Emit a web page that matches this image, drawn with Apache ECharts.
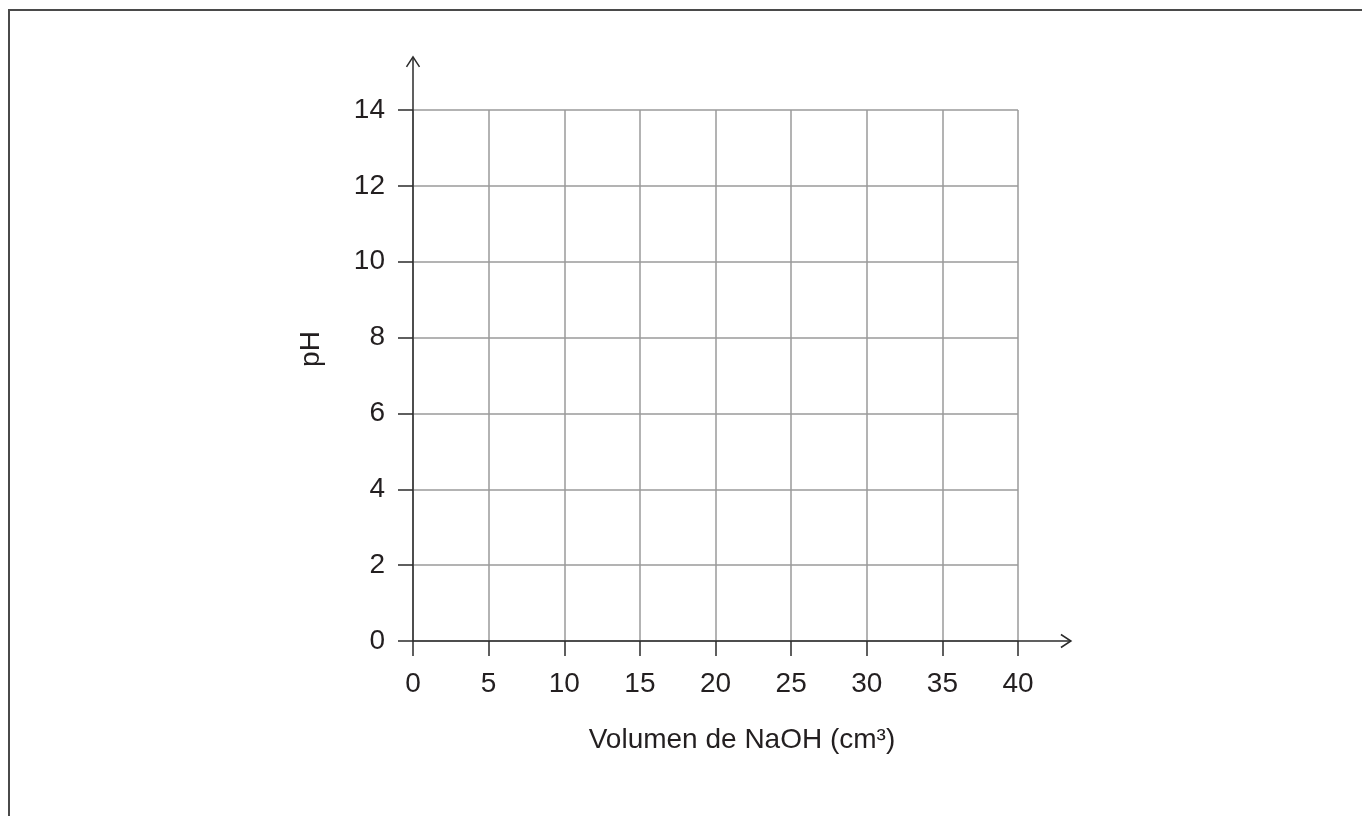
<!DOCTYPE html>
<html>
<head>
<meta charset="utf-8">
<script src="https://cdn.jsdelivr.net/npm/echarts@6/dist/echarts.min.js"></script>
<style>
html,body{margin:0;padding:0;background:#fff;}
#c{width:1362px;height:816px;}
</style>
</head>
<body>
<div id="c"></div>
<script>
// ---- data ----
const xTicks = [0, 5, 10, 15, 20, 25, 30, 35, 40];
const yTicks = [0, 2, 4, 6, 8, 10, 12, 14];
const xName = 'Volumen de NaOH (cm³)';
const yName = 'pH';
const xArrowEnd = 43.5;   // x-axis arrow extent (data units)
const yArrowEnd = 15.4;   // y-axis arrow extent (data units)
// axis arrows: [x0, y0, x1, y1] in data units
const axisArrows = [[0, 0, xArrowEnd, 0], [0, 0, 0, yArrowEnd]];

const FONT = "'Liberation Sans', Arial, Helvetica, sans-serif";
const TXT = '#231f20';
const AXC = '#2b2b2b';

function renderArrow(params, api) {
  const p0 = api.coord([api.value(0), api.value(1)]);
  const p1 = api.coord([api.value(2), api.value(3)]);
  const dx = p1[0] - p0[0], dy = p1[1] - p0[1];
  const len = Math.sqrt(dx * dx + dy * dy) || 1;
  const ux = dx / len, uy = dy / len;
  const back = 10, half = 6.5;
  const w1 = [p1[0] - ux * back - uy * half, p1[1] - uy * back + ux * half];
  const w2 = [p1[0] - ux * back + uy * half, p1[1] - uy * back - ux * half];
  return {
    type: 'group',
    children: [
      {type: 'line', shape: {x1: p0[0], y1: p0[1], x2: p1[0], y2: p1[1]},
       style: {stroke: AXC, lineWidth: 1.5}},
      {type: 'polyline', shape: {points: [w1, p1, w2]},
       style: {stroke: AXC, lineWidth: 1.5, fill: null}}
    ]
  };
}

const chart = echarts.init(document.getElementById('c'), null, {renderer: 'canvas'});
chart.setOption({
  animation: false,
  backgroundColor: '#fff',
  grid: {left: 413, top: 110, width: 605, height: 531, containLabel: false},
  xAxis: {
    type: 'value', min: xTicks[0], max: xTicks[xTicks.length - 1], interval: 5,
    axisLine: {show: false},
    axisTick: {show: true, length: 15, lineStyle: {color: AXC, width: 1.5}},
    axisLabel: {margin: 29, fontSize: 28, fontFamily: FONT, color: TXT},
    splitLine: {show: true, lineStyle: {color: '#9a9a9a', width: 1.5}}
  },
  yAxis: {
    type: 'value', min: yTicks[0], max: yTicks[yTicks.length - 1], interval: 2,
    axisLine: {show: false},
    axisTick: {show: true, length: 15, lineStyle: {color: AXC, width: 1.5}},
    axisLabel: {margin: 28, fontSize: 28, fontFamily: FONT, color: TXT},
    splitLine: {show: true, lineStyle: {color: '#9a9a9a', width: 1.5}}
  },
  series: [{
    type: 'custom', clip: false, silent: true, z: 5,
    dimensions: ['x0', 'y0', 'x1', 'y1'],
    encode: {x: [0, 2], y: [1, 3]},
    renderItem: renderArrow,
    data: axisArrows
  }],
  graphic: [
    {type: 'polyline', silent: true, shape: {points: [[9, 816], [9, 10], [1362, 10]]},
     style: {stroke: '#4a4a4a', lineWidth: 2, fill: null}},
    {type: 'text', silent: true, x: 742, y: 740,
     style: {text: xName, font: '28px ' + FONT, fill: TXT, textAlign: 'center', textVerticalAlign: 'middle'}},
    {type: 'text', silent: true, x: 311, y: 349, rotation: Math.PI / 2,
     style: {text: yName, font: '28px ' + FONT, fill: TXT, textAlign: 'center', textVerticalAlign: 'middle'}}
  ]
});
</script>
</body>
</html>
